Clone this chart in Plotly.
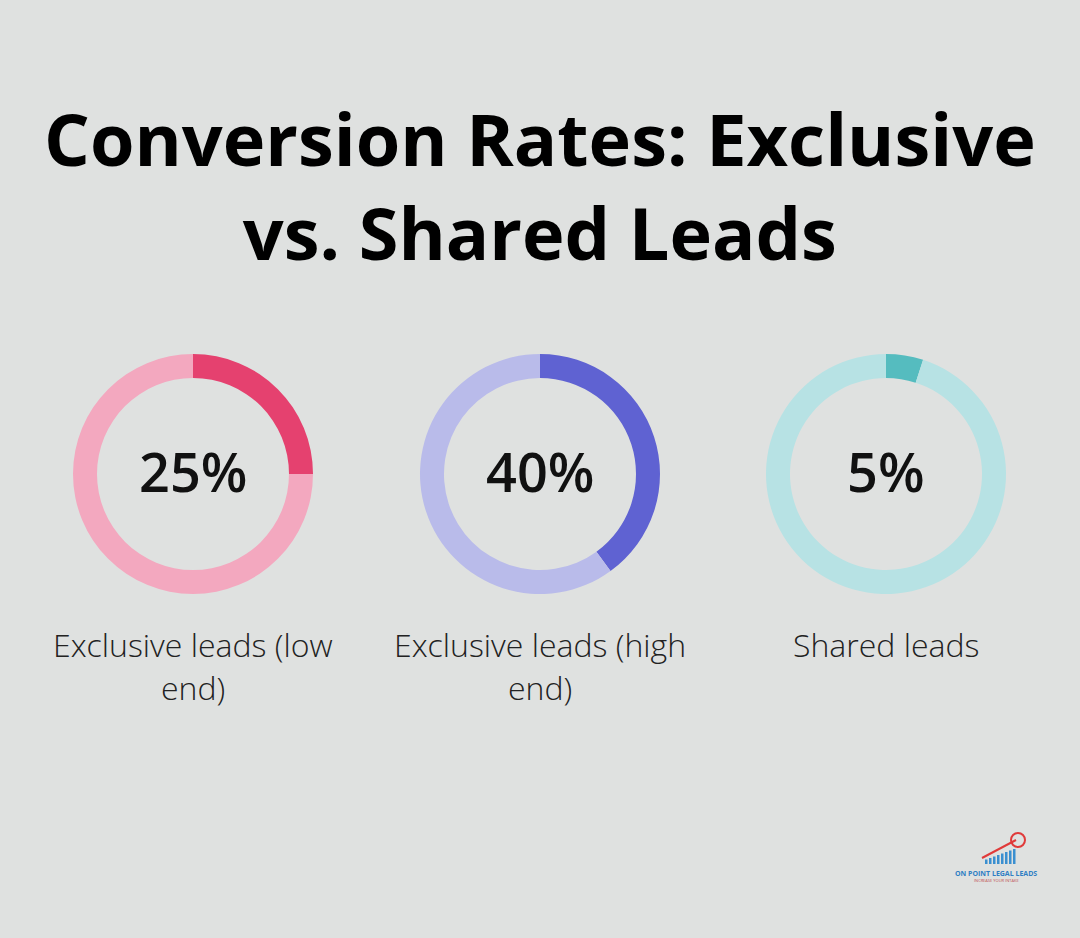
import plotly.graph_objects as go

W, H = 1080, 938

title_text = "Conversion Rates: Exclusive<br>vs. Shared Leads"
categories = ["Exclusive leads (low<br>end)", "Exclusive leads (high<br>end)", "Shared leads"]
rates = [25, 40, 5]
center_labels = ["25%", "40%", "5%"]
dark_colors = ["#E5416F", "#5F62D2", "#55BCBF"]
light_colors = ["#F3A8BF", "#B9BBEA", "#B7E2E4"]

centers_x = [193, 540, 886]
center_y = 474
radius = 120
BG = "#DFE1E0"

fig = go.Figure()

def px_x(v):
    return v / W

def px_y(v):
    return 1 - v / H

for i, r in enumerate(rates):
    cx = centers_x[i]
    fig.add_trace(go.Pie(
        values=[r, 100 - r],
        labels=["Converted", "Not converted"],
        hole=0.8,
        sort=False,
        direction="clockwise",
        rotation=0,
        textinfo="none",
        hoverinfo="label+percent",
        marker=dict(colors=[dark_colors[i], light_colors[i]], line=dict(width=0)),
        domain=dict(x=[px_x(cx - radius), px_x(cx + radius)],
                    y=[px_y(center_y + radius), px_y(center_y - radius)]),
        showlegend=False,
    ))
    fig.add_annotation(
        x=px_x(cx), y=px_y(center_y - 3), xref="paper", yref="paper",
        text=center_labels[i], showarrow=False,
        font=dict(family="Open Sans", size=54, color="#111111", weight=600),
        xanchor="center", yanchor="middle",
    )
    for j, line in enumerate(categories[i].split("<br>")):
        fig.add_annotation(
            x=px_x(cx), y=px_y(644 + j * 43), xref="paper", yref="paper",
            text=line, showarrow=False,
            font=dict(family="Open Sans", size=32, color="#222222", weight=300),
            xanchor="center", yanchor="middle",
        )

fig.add_annotation(
    x=0.5, y=px_y(185), xref="paper", yref="paper",
    text="<b>" + title_text + "</b>", showarrow=False,
    font=dict(family="Open Sans", size=72, color="#000000"),
    xanchor="center", yanchor="middle",
)

# small logo
logo_bars = [3, 4, 5, 6, 7, 8, 9, 10]
for k, h in enumerate(logo_bars):
    x0 = 985 + k * 4
    fig.add_shape(type="rect", xref="paper", yref="paper",
                  x0=px_x(x0), x1=px_x(x0 + 2.5),
                  y0=px_y(864), y1=px_y(864 - h * 1.5),
                  fillcolor="#3A8FD0", line=dict(width=0))
fig.add_shape(type="line", xref="paper", yref="paper",
              x0=px_x(982), y0=px_y(858), x1=px_x(1016), y1=px_y(840),
              line=dict(color="#E03A3A", width=2))
fig.add_shape(type="circle", xref="paper", yref="paper",
              x0=px_x(1011), y0=px_y(847), x1=px_x(1025), y1=px_y(833),
              line=dict(color="#E03A3A", width=2))
fig.add_annotation(
    x=px_x(996), y=px_y(873), xref="paper", yref="paper",
    text="<b>ON POINT LEGAL LEADS</b>", showarrow=False,
    font=dict(family="Open Sans", size=7, color="#2F7FC4"),
    xanchor="center", yanchor="middle",
)
fig.add_annotation(
    x=px_x(996), y=px_y(880), xref="paper", yref="paper",
    text="INCREASE YOUR INTAKE", showarrow=False,
    font=dict(family="Open Sans", size=4, color="#C05050"),
    xanchor="center", yanchor="middle",
)

fig.update_layout(
    width=W, height=H,
    margin=dict(l=0, r=0, t=0, b=0),
    paper_bgcolor=BG, plot_bgcolor=BG,
)

fig.write_html("out.html", config={"displayModeBar": False},
               post_script="document.body.style.margin='0';")
